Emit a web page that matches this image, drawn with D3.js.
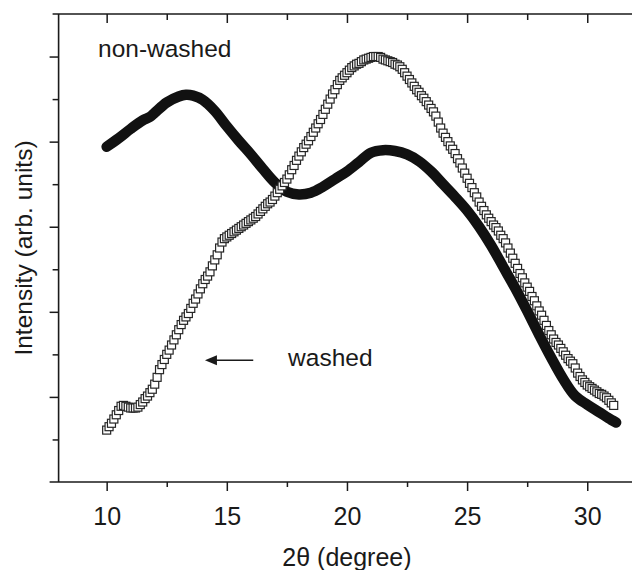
<!DOCTYPE html>
<html><head><meta charset="utf-8">
<script src="https://cdn.jsdelivr.net/npm/d3@7"></script>
<style>
body{margin:0;background:#fff}
svg{display:block}
text{font-family:"Liberation Sans",Arial,Helvetica,sans-serif;fill:#1a1a1a}
</style>
</head><body>
<svg id="c" width="632" height="570"></svg>
<script>
// ---- data ----
const xTicksMajor = [10, 15, 20, 25, 30];
const xTicksMinor = [12.5, 17.5, 22.5, 27.5];
const yTicksMajor = [1, 2, 3, 4, 5];
const yTicksMinor = [0.5, 1.5, 2.5, 3.5, 4.5];

// washed sample (open squares): [2theta, intensity]
const washed = [
[10.0,0.61],[10.1,0.65],[10.2,0.69],[10.3,0.74],[10.4,0.79],[10.5,0.84],[10.6,0.89],[10.7,0.90],[10.8,0.89],[10.9,0.88],
[11.0,0.87],[11.1,0.87],[11.2,0.87],[11.3,0.88],[11.4,0.91],[11.5,0.94],[11.6,0.98],[11.7,1.01],[11.8,1.05],[11.9,1.09],
[12.0,1.15],[12.1,1.23],[12.2,1.32],[12.3,1.38],[12.4,1.44],[12.5,1.50],[12.6,1.55],[12.7,1.61],[12.8,1.67],[12.9,1.73],
[13.0,1.79],[13.1,1.85],[13.2,1.90],[13.3,1.94],[13.4,1.98],[13.5,2.04],[13.6,2.10],[13.7,2.15],[13.8,2.21],[13.9,2.27],
[14.0,2.33],[14.1,2.38],[14.2,2.42],[14.3,2.47],[14.4,2.54],[14.5,2.61],[14.6,2.67],[14.7,2.75],[14.8,2.82],[14.9,2.86],
[15.0,2.88],[15.1,2.90],[15.2,2.92],[15.3,2.94],[15.4,2.96],[15.5,2.98],[15.6,3.00],[15.7,3.02],[15.8,3.04],[15.9,3.06],
[16.0,3.08],[16.1,3.10],[16.2,3.12],[16.3,3.15],[16.4,3.18],[16.5,3.21],[16.6,3.24],[16.7,3.27],[16.8,3.29],[16.9,3.32],
[17.0,3.36],[17.1,3.40],[17.2,3.44],[17.3,3.48],[17.4,3.52],[17.5,3.56],[17.6,3.61],[17.7,3.67],[17.8,3.72],[17.9,3.78],
[18.0,3.83],[18.1,3.88],[18.2,3.93],[18.3,3.97],[18.4,4.01],[18.5,4.06],[18.6,4.11],[18.7,4.16],[18.8,4.21],[18.9,4.26],
[19.0,4.32],[19.1,4.38],[19.2,4.44],[19.3,4.50],[19.4,4.56],[19.5,4.61],[19.6,4.67],[19.7,4.72],[19.8,4.75],[19.9,4.78],
[20.0,4.81],[20.1,4.84],[20.2,4.87],[20.3,4.89],[20.4,4.91],[20.5,4.92],[20.6,4.94],[20.7,4.96],[20.8,4.97],[20.9,4.98],
[21.0,4.99],[21.1,5.00],[21.2,5.00],[21.3,5.00],[21.4,4.99],[21.5,4.97],[21.6,4.96],[21.7,4.95],[21.8,4.94],[21.9,4.93],
[22.0,4.91],[22.1,4.90],[22.2,4.88],[22.3,4.85],[22.4,4.81],[22.5,4.77],[22.6,4.73],[22.7,4.69],[22.8,4.65],[22.9,4.61],
[23.0,4.58],[23.1,4.54],[23.2,4.51],[23.3,4.47],[23.4,4.43],[23.5,4.39],[23.6,4.35],[23.7,4.30],[23.8,4.23],[23.9,4.16],
[24.0,4.10],[24.1,4.05],[24.2,4.00],[24.3,3.95],[24.4,3.91],[24.5,3.86],[24.6,3.80],[24.7,3.75],[24.8,3.69],[24.9,3.63],
[25.0,3.57],[25.1,3.51],[25.2,3.46],[25.3,3.40],[25.4,3.35],[25.5,3.29],[25.6,3.24],[25.7,3.19],[25.8,3.14],[25.9,3.10],
[26.0,3.06],[26.1,3.02],[26.2,2.99],[26.3,2.95],[26.4,2.90],[26.5,2.86],[26.6,2.81],[26.7,2.75],[26.8,2.69],[26.9,2.63],
[27.0,2.57],[27.1,2.51],[27.2,2.45],[27.3,2.40],[27.4,2.34],[27.5,2.29],[27.6,2.24],[27.7,2.18],[27.8,2.13],[27.9,2.07],
[28.0,2.01],[28.1,1.96],[28.2,1.90],[28.3,1.84],[28.4,1.78],[28.5,1.73],[28.6,1.68],[28.7,1.64],[28.8,1.61],[28.9,1.57],
[29.0,1.53],[29.1,1.49],[29.2,1.45],[29.3,1.42],[29.4,1.39],[29.5,1.34],[29.6,1.28],[29.7,1.24],[29.8,1.20],[29.9,1.17],
[30.0,1.14],[30.1,1.12],[30.2,1.10],[30.3,1.08],[30.4,1.06],[30.5,1.04],[30.6,1.03],[30.7,1.01],[30.8,0.99],[30.9,0.96],
[31.0,0.93],[31.1,0.90]
];

// non-washed sample (thick solid line): [2theta, intensity]
const nonWashed = [
[10.0,3.94],[10.5,4.04],[11.0,4.15],[11.5,4.25],[11.8,4.29],[12.0,4.34],[12.5,4.46],[13.0,4.53],[13.3,4.55],[13.6,4.54],
[14.0,4.49],[14.5,4.36],[15.0,4.18],[15.5,4.01],[16.0,3.85],[16.5,3.68],[17.0,3.52],[17.5,3.41],[18.0,3.38],[18.5,3.40],
[19.0,3.47],[19.5,3.56],[20.0,3.65],[20.5,3.76],[21.0,3.87],[21.5,3.90],[22.0,3.89],[22.5,3.85],[23.0,3.77],[23.5,3.65],
[24.0,3.50],[24.5,3.35],[25.0,3.19],[25.5,3.00],[26.0,2.78],[26.5,2.53],[27.0,2.28],[27.5,2.01],[28.0,1.73],[28.5,1.46],
[29.0,1.21],[29.5,1.01],[30.0,0.91],[30.5,0.82],[31.0,0.73],[31.2,0.70]
];

const labels = {
  x: "2\u03B8 (degree)",
  y: "Intensity (arb. units)",
  nonWashed: "non-washed",
  washed: "washed"
};

// ---- layout ----
const svg = d3.select("#c");
const padL = 58.6, padT = 14, padB = 482;
const x = d3.scaleLinear().domain([8, 32]).range([padL, padL + 24 * 24.03]);
const y = d3.scaleLinear().domain([0, 5.5]).range([padB, padT]);
const ink = "#1a1a1a";

// thick non-washed curve
const line = d3.line().x(d => x(d[0])).y(d => y(d[1])).curve(d3.curveCatmullRom.alpha(0.5));
svg.append("path").datum(nonWashed)
  .attr("d", line)
  .attr("fill", "none").attr("stroke", "#111")
  .attr("stroke-width", 10.5).attr("stroke-linecap", "round").attr("stroke-linejoin", "round");

// open squares (washed)
const s = 8;
svg.append("g").selectAll("rect").data(washed).join("rect")
  .attr("x", d => x(d[0]) - s / 2).attr("y", d => y(d[1]) - s / 2)
  .attr("width", s).attr("height", s)
  .attr("fill", "#fff").attr("stroke", "#262626").attr("stroke-width", 1.2);

// ---- axes ----
function styleAxis(g){ g.select(".domain").remove(); g.selectAll("line").attr("stroke", ink).attr("stroke-width", 1.5); }

// bottom
svg.append("g").attr("transform", `translate(0,${padB})`)
  .call(d3.axisBottom(x).tickValues(xTicksMajor).tickSize(9).tickFormat(d3.format("d")))
  .call(styleAxis)
  .call(g => g.selectAll("text").attr("y", 43).attr("dy", 0).style("font-size", "25px")
       .style("font-family", '"Liberation Sans",Arial,sans-serif').attr("fill", ink));
svg.append("g").attr("transform", `translate(0,${padB})`)
  .call(d3.axisBottom(x).tickValues(xTicksMinor).tickSize(5).tickFormat(""))
  .call(styleAxis);

// top (ticks inward, no labels)
svg.append("g").attr("transform", `translate(0,${padT})`)
  .call(d3.axisBottom(x).tickValues(xTicksMajor).tickSize(9).tickFormat(""))
  .call(styleAxis);
svg.append("g").attr("transform", `translate(0,${padT})`)
  .call(d3.axisBottom(x).tickValues(xTicksMinor).tickSize(6).tickFormat(""))
  .call(styleAxis);

// left (ticks outward, no labels)
svg.append("g").attr("transform", `translate(${x(8)},0)`)
  .call(d3.axisLeft(y).tickValues(yTicksMajor).tickSize(9).tickFormat(""))
  .call(styleAxis);
svg.append("g").attr("transform", `translate(${x(8)},0)`)
  .call(d3.axisLeft(y).tickValues(yTicksMinor).tickSize(6).tickFormat(""))
  .call(styleAxis);

// axis lines
const axl = svg.append("g").attr("stroke", ink).attr("stroke-width", 1.6);
axl.append("line").attr("x1", x(8) - 9).attr("x2", 632).attr("y1", y(0)).attr("y2", y(0));
axl.append("line").attr("x1", x(8) - 6).attr("x2", 632).attr("y1", y(5.5)).attr("y2", y(5.5));
axl.append("line").attr("x1", x(8)).attr("x2", x(8)).attr("y1", y(5.5)).attr("y2", y(0));

// axis titles
svg.append("text").attr("x", x(20)).attr("y", 566).attr("text-anchor", "middle")
  .style("font-size", "25px").text(labels.x);
svg.append("text").attr("transform", `translate(32,${(y(0) + y(5.5)) / 2}) rotate(-90)`)
  .attr("text-anchor", "middle").style("font-size", "24.5px").text(labels.y);

// annotations
svg.append("text").attr("x", x(9.64)).attr("y", y(5.0)).style("font-size", "24.5px").text(labels.nonWashed);
svg.append("text").attr("x", x(17.55)).attr("y", y(1.36)).style("font-size", "24.5px").text(labels.washed);

// arrow
const ay = y(1.43), ax0 = x(16.1), ax1 = x(14.09);
svg.append("line").attr("x1", ax0).attr("x2", ax1 + 10).attr("y1", ay).attr("y2", ay)
  .attr("stroke", ink).attr("stroke-width", 1.6);
svg.append("path")
  .attr("d", `M${ax1},${ay} L${ax1 + 12},${ay - 5} L${ax1 + 12},${ay + 5} Z`)
  .attr("fill", ink);
</script>
</body></html>
